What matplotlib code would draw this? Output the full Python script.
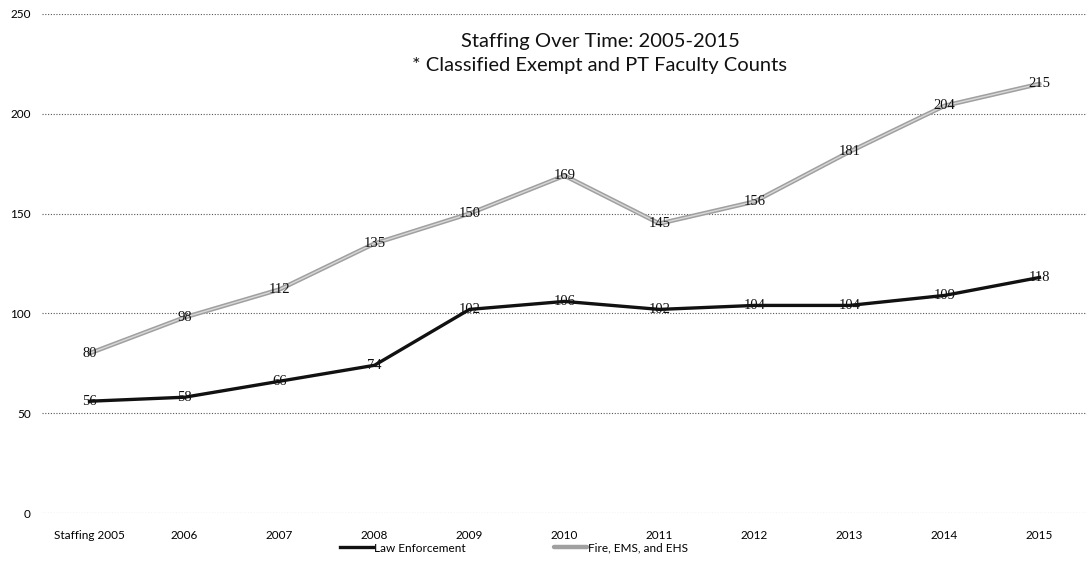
import matplotlib
matplotlib.use("Agg")
import matplotlib.pyplot as plt

categories = ["Staffing 2005", "2006", "2007", "2008", "2009", "2010",
              "2011", "2012", "2013", "2014", "2015"]
law = [56, 58, 66, 74, 102, 106, 102, 104, 104, 109, 118]
fire = [80, 98, 112, 135, 150, 169, 145, 156, 181, 204, 215]
yticks = [0, 50, 100, 150, 200, 250]

fig = plt.figure(figsize=(10.88, 5.77), dpi=100)
ax = fig.add_axes([42/1088, 64/577, 1045/1088, 499/577])
x = list(range(len(categories)))

ax.plot(x, fire, color="#a0a0a0", lw=3.2, solid_capstyle="round", zorder=3,
        label="Fire, EMS, and EHS")
ax.plot(x, fire, color="#d8d8d8", lw=1.0, zorder=3.1)
ax.plot(x, law, color="#111111", lw=2.4, zorder=4, label="Law Enforcement")

for xi, v in zip(x, law):
    ax.text(xi, v, str(v), ha="center", va="center", fontsize=10.5,
            family="Liberation Serif", color="#111111", zorder=5)
for xi, v in zip(x, fire):
    ax.text(xi, v, str(v), ha="center", va="center", fontsize=10.5,
            family="Liberation Serif", color="#111111", zorder=5)

ax.set_xlim(-0.5, len(categories) - 0.5)
ax.set_ylim(0, 250)
ax.set_yticks(yticks)
ax.set_xticks(x)
ax.set_xticklabels(categories, family="Lato", fontsize=8.5)
ax.set_yticklabels([str(t) for t in yticks], family="Lato", fontsize=8.5)
ax.tick_params(length=0, pad=8)
ax.tick_params(axis="x", pad=12)
for s in ax.spines.values():
    s.set_visible(False)
ax.grid(axis="y", color="#555555", ls=(0, (1, 1.5)), lw=0.8)
ax.set_axisbelow(True)

fig.text(600/1088, 1 - 53/577,
         "Staffing Over Time: 2005-2015\n* Classified Exempt and PT Faculty Counts",
         family="Lato", fontsize=14.5, ha="center", va="center",
         multialignment="center", linespacing=1.5, color="#111111")

h, l = ax.get_legend_handles_labels()
order = [1, 0]
fig.legend([h[i] for i in order], [l[i] for i in order], loc="center",
           bbox_to_anchor=(514/1088, 1 - 548/577), ncol=2, frameon=False,
           prop={"family": "Lato", "size": 8.5}, handlelength=2.8,
           handletextpad=0.1, columnspacing=7.5)

fig.savefig("out.png", dpi=100)
